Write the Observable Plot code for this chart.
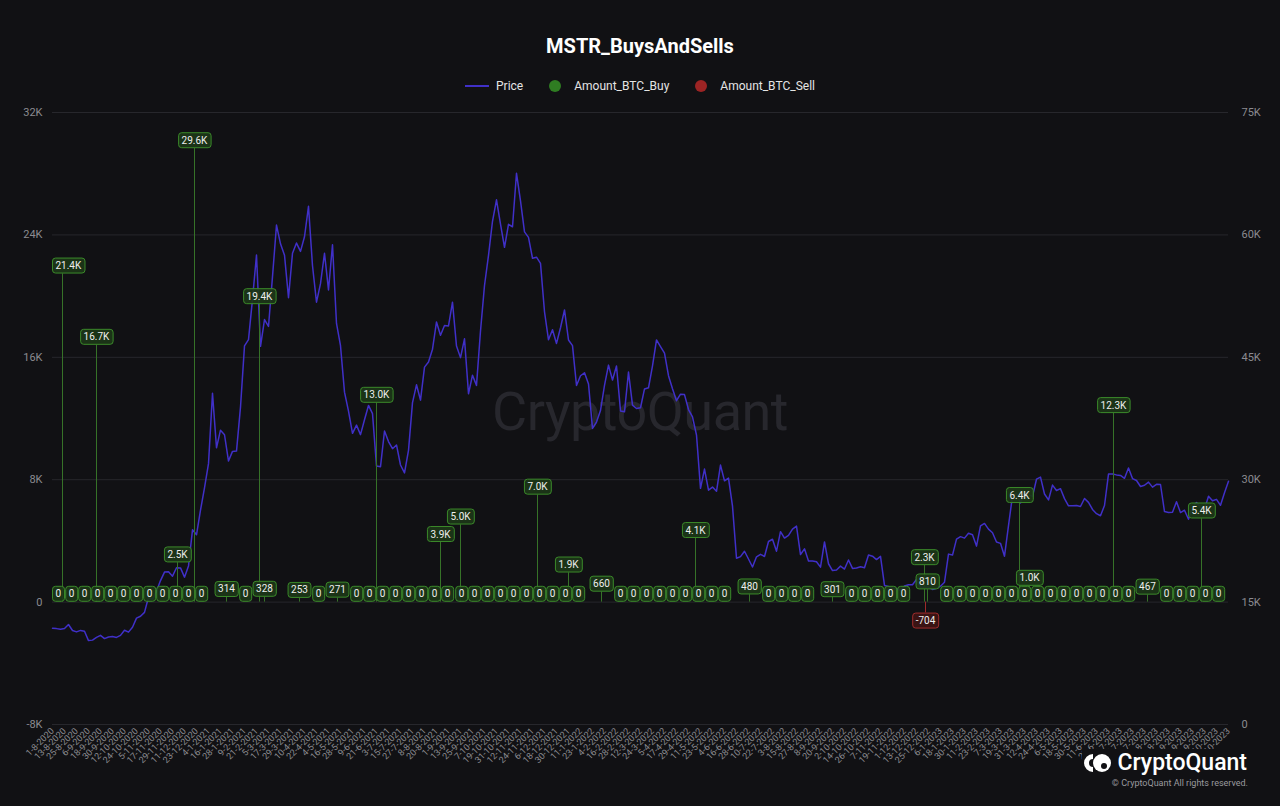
<!DOCTYPE html>
<html>
<head>
<meta charset="utf-8">
<script src="https://cdn.jsdelivr.net/npm/d3@7"></script>
<script src="https://cdn.jsdelivr.net/npm/@observablehq/plot@0.6"></script>
<style>
html,body{margin:0;padding:0;background:#111114;width:1280px;height:806px;overflow:hidden;font-family:Roboto,"Open Sans",sans-serif;}
#title{position:absolute;top:34px;left:0;width:1280px;text-align:center;color:#ffffff;font-size:20px;font-weight:700;}
#legend{position:absolute;top:78px;left:0;width:1280px;display:flex;justify-content:center;align-items:center;color:#e4e4e4;font-size:12px;height:16px;}
#legend .sw{display:inline-block;width:24px;height:2px;background:#4030c8;margin-right:7px;}
#legend .dot{display:inline-block;width:12px;height:12px;border-radius:50%;margin-right:13px;}
#legend .item{display:flex;align-items:center;margin:0 13px;}
#watermark{position:absolute;left:0;width:1280px;top:380px;text-align:center;font-size:54px;font-weight:400;color:#27272d;z-index:0;letter-spacing:-0.5px;}
#chart{position:absolute;top:100px;left:0;z-index:1;}
#logo{position:absolute;right:33px;top:749px;display:flex;align-items:center;color:#fff;font-size:23px;font-weight:500;z-index:2;background:#111114;padding-left:2px;}
#copy{position:absolute;right:32px;top:778px;color:#9a9a9f;font-size:9px;z-index:2;}
</style>
</head>
<body>
<div id="title">MSTR_BuysAndSells</div>
<div id="legend">
  <div class="item"><span class="sw"></span>Price</div>
  <div class="item"><span class="dot" style="background:#2f7d22"></span>Amount_BTC_Buy</div>
  <div class="item"><span class="dot" style="background:#9c2424"></span>Amount_BTC_Sell</div>
</div>
<div id="watermark">CryptoQuant</div>
<div id="chart"></div>
<div id="logo"><svg width="28" height="24" viewBox="0 0 28 24" style="margin-right:6px"><path d="M9 3 A9 9 0 0 0 9 21 L9 16 A4 4 0 0 1 9 8 Z" fill="#fff"/><circle cx="18" cy="12" r="9" fill="#fff"/><circle cx="20" cy="15" r="3" fill="#111114"/></svg>CryptoQuant</div>
<div id="copy">© CryptoQuant All rights reserved.</div>
<script>
// ---------- data ----------
const priceStart = "2020-08-01";
const priceStepDays = 4;
// BTC price in thousands of USD, one value every 4 days from priceStart
const priceK = [
  11.8, 11.75, 11.68, 11.77, 12.25, 11.52, 11.35, 11.53,
  11.42, 10.28, 10.34, 10.68, 10.93, 10.53, 10.73, 10.78,
  10.67, 10.92, 11.55, 11.32, 11.92, 13.03, 13.27,
  13.74, 15.59, 15.33, 16.32, 17.64, 18.68, 18.73, 18.18,
  19.21, 19.19, 18.06, 19.43, 23.86, 23.25, 26.27, 28.99,
  31.97, 40.58, 33.92, 36.07, 35.51, 32.29, 33.47,
  33.51, 38.90, 46.40, 47.17, 52.13, 57.54, 46.34,
  49.63, 48.78, 54.88, 61.20, 58.91, 57.52, 52.30, 57.75,
  59.00, 57.98, 59.77, 63.50, 56.22, 51.76, 54.02, 57.75,
  53.25, 58.80, 49.15, 46.42, 40.73, 38.40, 35.68,
  36.69, 35.52, 37.34, 39.10, 38.10, 31.68, 31.60, 35.97,
  34.68, 33.80, 34.26, 31.80, 30.84, 33.60, 39.45, 41.63,
  39.75, 43.80, 44.43, 45.99, 49.33, 47.70, 48.90,
  48.85, 51.75, 46.37, 44.96, 47.26, 40.53, 42.81, 41.56,
  48.22, 53.80, 57.48, 61.67, 64.30, 61.31, 58.48, 61.30,
  61.00, 67.55, 64.16, 60.37, 59.70, 57.14, 57.27,
  56.51, 50.58, 47.14, 48.38, 46.70, 48.62, 50.81, 47.12,
  46.43, 41.55, 42.74, 43.10, 41.74, 36.28, 37.06, 38.48,
  41.57, 44.04, 42.21, 43.93, 38.43, 38.33, 43.19,
  39.14, 38.73, 38.82, 41.12, 41.26, 43.96, 47.13,
  46.31, 45.50, 42.75, 41.15, 39.68, 40.48, 40.43, 38.60,
  37.71, 35.47, 28.94, 31.30, 28.72, 29.10, 28.58, 31.79,
  29.86, 30.20, 26.76, 20.38, 20.57, 21.23, 20.28,
  19.30, 20.55, 20.85, 20.59, 22.43, 22.70, 21.24, 23.63,
  22.85, 23.18, 23.95, 24.31, 20.83, 21.53, 20.04, 20.05,
  19.95, 19.29, 22.37, 19.70, 18.87, 18.93, 19.41,
  19.05, 20.16, 19.13, 19.18, 19.33, 19.21, 20.78, 20.63,
  20.21, 20.60, 17.04, 16.90, 16.70, 16.60, 16.46,
  16.97, 17.13, 17.13, 17.78, 16.76, 16.83, 16.84, 16.55,
  16.68, 16.95, 17.44, 20.88, 20.76, 22.71, 23.02, 22.84,
  23.43, 23.26, 21.86, 24.33, 24.64, 23.94, 23.50,
  22.36, 22.20, 20.63, 24.37, 28.04, 28.32, 27.14, 28.48,
  28.17, 27.95, 30.06, 30.32, 28.25, 27.52, 29.34,
  28.68, 28.90, 27.68, 26.80, 26.82, 26.85, 26.72, 27.70,
  27.22, 26.35, 25.84, 25.58, 26.84, 30.69, 30.69,
  30.59, 30.52, 30.17, 31.43, 30.14, 29.90, 29.17, 29.32,
  29.70, 29.09, 29.43, 29.41, 26.10, 25.98, 26.01, 27.30,
  25.97, 26.26, 25.16, 26.61, 27.21, 26.58, 26.36,
  27.98, 27.42, 27.59, 26.86, 28.40, 29.80
];
const buyDates = ["2020-08-11","2020-09-14","2020-12-04","2020-12-21","2021-01-22","2021-02-24","2021-03-01","2021-04-05","2021-05-13","2021-06-21","2021-08-24","2021-09-13","2021-11-29","2021-12-30","2022-02-01","2022-05-06","2022-06-29","2022-09-20","2022-12-21","2022-12-24","2023-03-26","2023-04-05","2023-06-28","2023-08-01","2023-09-24"];
const buyAmounts = [21454,16796,2574,29646,314,19452,328,253,271,13005,3907,5050,7002,1914,660,4167,480,301,2395,810,6455,1045,12333,467,5445];
const sellDates = ["2022-12-22"];
const sellAmounts = [-704];
const leftTicks = [-8000, 0, 8000, 16000, 24000, 32000];
const rightTicks = [0, 15000, 30000, 45000, 60000, 75000];
const xStart = "2020-08-01";
const xEnd = "2023-10-21";
const xTickStepDays = 12;

// ---------- helpers ----------
const parse = s => new Date(s + "T00:00:00Z");
const t0 = parse(xStart), t1 = parse(xEnd);
const priceToY = p => -8000 + p * 40000 / 75000;
const yToPrice = v => Math.round((v + 8000) * 75000 / 40000);
const kfmt = v => v === 0 ? "0" : (v / 1000) + "K";
const fmtAmt = v => {
  const a = Math.abs(v), s = v < 0 ? "-" : "";
  return a >= 1000 ? s + (Math.floor(a / 100) / 10).toFixed(1) + "K" : String(v);
};
const fmtDate = d => `${d.getUTCDate()}-${d.getUTCMonth() + 1}-${d.getUTCFullYear()}`;

const priceRows = priceK.map((p, i) => ({date: d3.utcDay.offset(parse(priceStart), i * priceStepDays), price: p * 1000}));
const buyRows = buyDates.map((d, i) => ({date: parse(d), amount: buyAmounts[i]}));
const sellRows = sellDates.map((d, i) => ({date: parse(d), amount: sellAmounts[i]}));
const xTicks = d3.utcDay.range(t0, d3.utcDay.offset(t1, 1), xTickStepDays);
// daily buy series (0 on days without a purchase)
const buyByDay = d3.rollup(buyRows, v => d3.sum(v, d => d.amount), d => +d.date);
const dailyBuy = d3.utcDay.range(t0, d3.utcDay.offset(t1, 1)).map(date => ({date, amount: buyByDay.get(+date) || 0}));

const base = {
  width: 1280, height: 706,
  marginTop: 12, marginBottom: 82, marginLeft: 52, marginRight: 52,
  style: {background: "transparent", color: "#8b8b90", fontFamily: "Roboto, 'Open Sans', sans-serif", overflow: "visible"},
  x: {type: "utc", domain: [t0, t1]},
  y: {domain: [-8000, 32000]}
};

// probe pass to read the scales for label placement / overlap hiding
const probe = Plot.plot({...base, marks: [Plot.ruleY([0])]});
const xs = d3.scaleUtc(probe.scale("x").domain, probe.scale("x").range);
const ys = d3.scaleLinear(probe.scale("y").domain, probe.scale("y").range);
const [L, R] = xs.range();
const ctx = document.createElement("canvas").getContext("2d");
ctx.font = "10px Roboto";
const cands = [...dailyBuy.map(d => ({...d, kind: "buy"})), ...sellRows.map(d => ({...d, kind: "sell"}))].map((d, idx) => {
  const text = fmtAmt(d.amount);
  const w = ctx.measureText(text).width + 6;
  let cx = xs(d.date);
  let shift = 0;
  if (cx - w / 2 < L) shift = L - (cx - w / 2);          // justify inside plot
  if (cx + w / 2 > R) shift = R - (cx + w / 2);
  cx += shift;
  const cy = d.amount < 0 ? ys(d.amount) + 8 : ys(d.amount) - 8;
  return {...d, text, idx, shift, x0: cx - w / 2, x1: cx + w / 2, y0: cy - 7.5, y1: cy + 7.5};
});
const order = cands.slice().sort((a, b) => Math.abs(b.amount) - Math.abs(a.amount) || a.idx - b.idx);
const kept = [];
for (const c of order) {
  if (kept.some(k => c.x0 < k.x1 + 1 && c.x1 + 1 > k.x0 && c.y0 < k.y1 && c.y1 > k.y0)) continue;
  kept.push(c);
}
const buyLabels = kept.filter(d => d.kind === "buy");
const sellLabels = kept.filter(d => d.kind === "sell");

const chart = Plot.plot({
  ...base,
  marks: [
    Plot.gridY(leftTicks, {stroke: "#27272c", strokeOpacity: 1, strokeWidth: 1}),
    Plot.axisY(leftTicks, {anchor: "left", tickSize: 0, tickPadding: 10, tickFormat: kfmt, fontSize: 11, fill: "#8b8b90", label: null}),
    Plot.axisY(rightTicks.map(priceToY), {anchor: "right", tickSize: 0, tickPadding: 13, tickFormat: v => kfmt(yToPrice(v)), fontSize: 11, fill: "#8b8b90", label: null}),
    Plot.axisX(xTicks, {tickRotate: -45, tickSize: 0, tickPadding: 5, tickFormat: fmtDate, fontSize: 9, fill: "#8d8d92", label: null}),
    Plot.line(priceRows, {x: "date", y: d => priceToY(d.price), stroke: "#4030c8", strokeWidth: 1.5}),
    Plot.ruleX(buyRows, {x: "date", y1: 0, y2: "amount", stroke: "#367228", strokeWidth: 1}),
    Plot.ruleX(sellRows, {x: "date", y1: 0, y2: "amount", stroke: "#a02a2a", strokeWidth: 1}),
    Plot.text(buyLabels, {x: "date", y: "amount", text: "text", dy: -8, fill: "#eeeeee", fontSize: 10, lineAnchor: "middle", className: "buylbl", ariaDescription: "buylbl"}),
    Plot.text(sellLabels, {x: "date", y: "amount", text: "text", dy: 8, fill: "#eeeeee", fontSize: 10, lineAnchor: "middle", className: "selllbl", ariaDescription: "selllbl"})
  ]
});
document.getElementById("chart").append(chart);

// per-label horizontal justification inside the plot area
const buyTextNodes = Array.from(new Set(chart.querySelectorAll("g.buylbl text, g[aria-description='buylbl'] text")));
buyTextNodes.forEach((t, i) => {
  const d = buyLabels[i];
  if (d && d.shift) {
    const tr = t.getAttribute("transform") || "";
    t.setAttribute("transform", `translate(${d.shift},0) ` + tr);
  }
});

function boxify(cls, fill, stroke) {
  const texts = Array.from(new Set(chart.querySelectorAll(`g.${cls} text, g[aria-description="${cls}"] text`)));
  texts.forEach(t => {
    const b = t.getBBox();
    const r = document.createElementNS("http://www.w3.org/2000/svg", "rect");
    r.setAttribute("x", b.x - 3);
    r.setAttribute("y", b.y - 2);
    r.setAttribute("width", b.width + 6);
    r.setAttribute("height", b.height + 4);
    r.setAttribute("rx", 3);
    r.setAttribute("fill", fill);
    r.setAttribute("fill-opacity", 0.92);
    r.setAttribute("stroke", stroke);
    r.setAttribute("stroke-width", 1);
    const tr = t.getAttribute("transform");
    if (tr) r.setAttribute("transform", tr);
    t.parentNode.insertBefore(r, t);
  });
}
boxify("buylbl", "#1c3618", "#3b8a2a");
boxify("selllbl", "#3e1515", "#a02c2c");
</script>
</body>
</html>
